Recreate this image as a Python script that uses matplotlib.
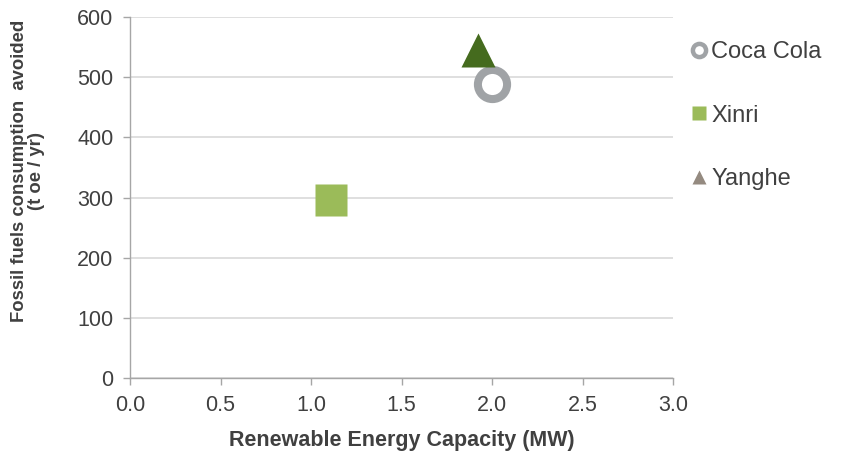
import matplotlib
matplotlib.use("Agg")
import matplotlib.pyplot as plt
from matplotlib.lines import Line2D

plt.rcParams['font.family'] = ['Liberation Sans', 'DejaVu Sans']

names = ["Coca Cola", "Xinri", "Yanghe"]
capacity_mw = [2.0, 1.11, 1.92]
fossil_avoided = [488, 296, 545]

xticks = [0.0, 0.5, 1.0, 1.5, 2.0, 2.5, 3.0]
yticks = [0, 100, 200, 300, 400, 500, 600]

fig = plt.figure(figsize=(8.41, 4.54), dpi=100)
ax = fig.add_axes([130/841, 1-378/454, (673-130)/841, (378-17)/454])

gridc = '#D9D9D9'
axc = '#A6A6A6'
textc = '#404040'

# Coca Cola: grey ring
ax.plot(capacity_mw[0], fossil_avoided[0], marker='o', linestyle='none', markersize=21,
        markerfacecolor='white', markeredgecolor='#A0A3A6', markeredgewidth=5.8, zorder=3)
# Xinri: green square
ax.plot(capacity_mw[1], fossil_avoided[1], marker='s', linestyle='none', markersize=23,
        markerfacecolor='#9BBB59', markeredgecolor='none', zorder=3)
# Yanghe: dark green triangle
ax.plot(capacity_mw[2], fossil_avoided[2], marker='^', linestyle='none', markersize=24.5,
        markerfacecolor='#456B1E', markeredgecolor='none', zorder=4)

ax.set_xlim(0, 3.0)
ax.set_ylim(0, 600)
ax.set_xticks(xticks)
ax.set_xticklabels([f"{v:.1f}" for v in xticks])
ax.set_yticks(yticks)
ax.set_yticklabels([str(v) for v in yticks])

ax.yaxis.grid(True, color=gridc, linewidth=1.2)
ax.set_axisbelow(True)
for s in ['top', 'right']:
    ax.spines[s].set_visible(False)
for s in ['left', 'bottom']:
    ax.spines[s].set_color(axc)
    ax.spines[s].set_linewidth(1.0)
ax.tick_params(axis='both', colors=axc, labelcolor=textc, labelsize=15.5, length=5, width=1.0)
ax.tick_params(axis='x', pad=7)
ax.tick_params(axis='y', pad=7)

ax.set_xlabel("Renewable Energy Capacity (MW)", fontsize=15.5, fontweight='bold', color=textc, labelpad=10)
ax.set_ylabel("Fossil fuels consumption  avoided\n(t oe / yr)", fontsize=13.3, fontweight='bold',
              color=textc, linespacing=1.05)
ax.yaxis.set_label_coords(-0.156, 0.573)

handles = [
    Line2D([], [], marker='o', linestyle='none', markersize=9.5, markerfacecolor='white',
           markeredgecolor='#A0A3A6', markeredgewidth=3.2),
    Line2D([], [], marker='s', linestyle='none', markersize=10, markerfacecolor='#9BBB59',
           markeredgecolor='none'),
    Line2D([], [], marker='^', linestyle='none', markersize=10.5, markerfacecolor='#948A80',
           markeredgecolor='none'),
]
leg = fig.legend(handles, names, loc='upper left', bbox_to_anchor=(690/841, 1-41/454),
                 frameon=False, fontsize=17, handlelength=0.75, handletextpad=0.15,
                 labelspacing=1.76, borderpad=0, borderaxespad=0)
for t in leg.get_texts():
    t.set_color(textc)

fig.savefig("out.png", dpi=100)
